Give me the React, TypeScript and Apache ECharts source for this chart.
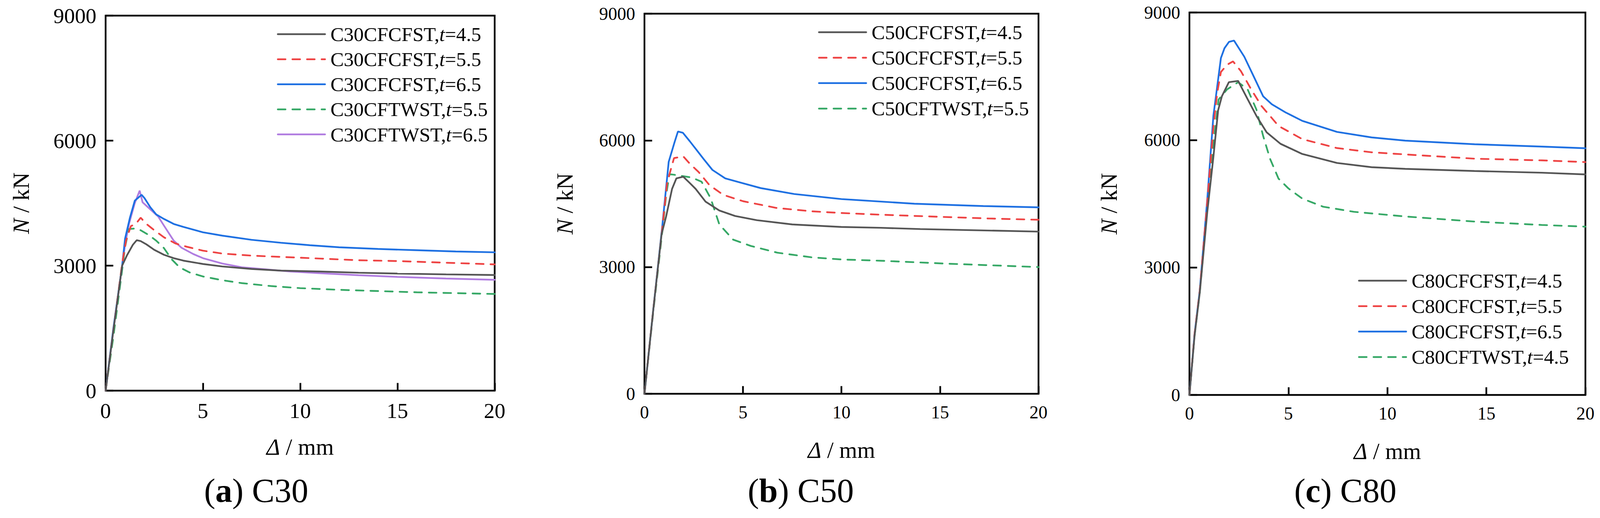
import React, { useEffect, useRef } from "react";
import * as echarts from "echarts";

const FONT = '"Liberation Serif", "Times New Roman", serif';

const xTicks = [0, 5, 10, 15, 20];
const yTicks = [0, 3000, 6000, 9000];
const captions = ["(a) C30", "(b) C50", "(c) C80"];
const seriesColors = ["#555555", "#ee4343", "#1e70e2", "#36a866", "#b07ce0"];

// Panel (a) C30
const namesA = [
  "C30CFCFST,t=4.5",
  "C30CFCFST,t=5.5",
  "C30CFCFST,t=6.5",
  "C30CFTWST,t=5.5",
  "C30CFTWST,t=6.5",
];
const a_cfcfst45 = [[0,0],[0.4,1450],[0.85,3000],[1.1,3250],[1.4,3500],[1.6,3610],[1.8,3590],[2.1,3510],[2.5,3380],[3.0,3260],[3.5,3180],[4.0,3120],[5.0,3040],[6.0,2980],[7.5,2920],[9,2880],[11,2860],[13,2830],[15,2810],[17.5,2790],[20,2775]];
const a_cfcfst55 = [[0,0],[0.4,1450],[0.85,3050],[1.05,3600],[1.3,3950],[1.55,4000],[1.8,4150],[2.1,4000],[2.5,3850],[3.0,3680],[3.6,3530],[4.2,3450],[5.0,3360],[6.0,3290],[7.5,3240],[9,3210],[11,3170],[13,3130],[15,3110],[17.5,3070],[20,3030]];
const a_cfcfst65 = [[0,0],[0.4,1500],[0.85,3000],[1.0,3650],[1.25,4150],[1.5,4560],[1.65,4620],[1.85,4700],[2.0,4620],[2.3,4400],[2.6,4230],[3.0,4120],[3.5,4000],[4.0,3930],[5.0,3800],[6.0,3720],[7.5,3620],[9,3550],[10.5,3490],[12,3440],[14,3400],[16,3370],[18,3340],[20,3320]];
const a_cftwst55 = [[0,0],[0.4,1300],[0.85,2900],[1.0,3450],[1.2,3880],[1.5,3890],[1.8,3850],[2.2,3740],[2.6,3600],[3.0,3420],[3.4,3150],[3.8,2960],[4.3,2840],[5.0,2740],[6.0,2650],[7.0,2580],[8.5,2510],[10,2460],[12,2420],[14,2390],[16,2360],[18,2340],[20,2320]];
const a_cftwst65 = [[0,0],[0.4,1450],[0.85,3000],[1.0,3500],[1.2,4000],[1.5,4500],[1.75,4800],[1.9,4520],[2.3,4350],[2.7,4180],[3.0,3960],[3.5,3600],[3.9,3430],[4.5,3280],[5.0,3180],[6.0,3050],[7.0,2960],[8.0,2920],[9.5,2860],[11,2820],[13,2770],[15,2730],[17.5,2690],[20,2660]];

// Panel (b) C50
const namesB = [
  "C50CFCFST,t=4.5",
  "C50CFCFST,t=5.5",
  "C50CFCFST,t=6.5",
  "C50CFTWST,t=5.5",
];
const b_cfcfst45 = [[0,0],[0.45,2000],[0.87,3780],[1.1,4200],[1.4,4850],[1.62,5100],[1.97,5140],[2.3,4990],[2.6,4850],[3.1,4550],[3.8,4340],[4.6,4210],[5.7,4110],[7.5,4010],[10,3950],[12,3930],[14,3900],[17,3870],[20,3840]];
const b_cfcfst55 = [[0,0],[0.45,2000],[0.9,3900],[1.15,5000],[1.5,5580],[1.97,5620],[2.3,5450],[2.75,5250],[3.3,4940],[4.0,4710],[5.0,4560],[6.7,4400],[8.5,4320],[10,4280],[12,4240],[15,4190],[17.5,4150],[20,4120]];
const b_cfcfst65 = [[0,0],[0.45,2000],[0.9,3950],[1.23,5490],[1.53,5960],[1.7,6210],[1.95,6180],[2.3,5980],[2.6,5800],[3.0,5560],[3.45,5300],[4.1,5100],[5.0,4985],[5.9,4870],[7.6,4730],[10,4610],[13.7,4500],[17.2,4445],[20,4414]];
const b_cftwst55 = [[0,0],[0.45,1950],[0.92,3900],[1.1,4700],[1.27,5200],[1.6,5180],[2.4,5120],[2.9,5020],[3.36,4630],[3.8,4010],[4.5,3650],[5.4,3500],[6.75,3340],[8.5,3230],[10,3180],[12,3150],[15.4,3080],[20,3000]];

// Panel (c) C80
const namesC = [
  "C80CFCFST,t=4.5",
  "C80CFCFST,t=5.5",
  "C80CFCFST,t=6.5",
  "C80CFTWST,t=4.5",
];
const c_cfcfst45 = [[0,0],[0.26,1400],[0.52,2400],[0.9,4300],[1.21,5600],[1.45,6700],[1.64,7030],[1.99,7360],[2.46,7390],[2.94,6960],[3.38,6570],[3.9,6180],[4.6,5910],[5.7,5670],[7.45,5460],[9.2,5360],[10.9,5320],[14.4,5270],[17.8,5230],[20,5190]];
const c_cfcfst55 = [[0,0],[0.26,1440],[0.52,2450],[0.9,4550],[1.21,6300],[1.4,7100],[1.59,7600],[1.9,7770],[2.2,7850],[2.6,7620],[3.12,7190],[3.64,6800],[4.5,6330],[5.7,6020],[7.45,5810],[9.2,5710],[10.9,5660],[14.4,5560],[17.8,5520],[20,5480]];
const c_cfcfst65 = [[0,0],[0.26,1440],[0.52,2450],[0.9,4600],[1.21,6570],[1.59,7930],[1.77,8160],[2.0,8310],[2.25,8340],[2.77,7960],[3.2,7540],[3.72,7030],[4.16,6840],[4.85,6650],[5.7,6450],[7.45,6190],[9.2,6060],[10.9,5985],[14.4,5900],[17.8,5845],[20,5806]];
const c_cftwst45 = [[0,0],[0.26,1400],[0.52,2400],[0.9,4400],[1.21,5900],[1.47,6950],[1.9,7190],[2.46,7360],[2.94,7190],[3.38,6720],[3.72,6100],[4.07,5560],[4.5,5090],[5.0,4860],[5.7,4620],[6.75,4430],[8.3,4310],[10.9,4200],[14.4,4080],[17.8,4000],[20,3960]];

const panels = [
  { names: namesA, data: [a_cfcfst45, a_cfcfst55, a_cfcfst65, a_cftwst55, a_cftwst65], colors: [0, 1, 2, 3, 4], dashed: [false, true, false, true, false] },
  { names: namesB, data: [b_cfcfst45, b_cfcfst55, b_cfcfst65, b_cftwst55], colors: [0, 1, 2, 3], dashed: [false, true, false, true] },
  { names: namesC, data: [c_cfcfst45, c_cfcfst55, c_cfcfst65, c_cftwst45], colors: [0, 1, 2, 3], dashed: [false, true, false, true] },
];

// layout in reference pixels (4166 x 1326), scaled to the real viewport
const REF_W = 4166;
const REF_H = 1326;
const grids = [
  { left: 275, top: 40, width: 1013, height: 960 },
  { left: 1678, top: 35, width: 1026, height: 973 },
  { left: 3097, top: 32, width: 1031, height: 979 },
];
const tickFont = [56, 47, 47];
const yNameGap = [190, 177, 179];
const legendPos = [
  { left: 716, top: 57, gap: 13 },
  { left: 2125, top: 52, gap: 14 },
  { left: 3531, top: 688, gap: 14 },
];
const captionPos = [
  { x: 667, y: 1256 },
  { x: 2085, y: 1256 },
  { x: 3503, y: 1256 },
];

function viewport() {
  const w = (typeof window !== "undefined" && window.innerWidth) || REF_W;
  const h = (typeof window !== "undefined" && window.innerHeight) || REF_H;
  return { w, h };
}

export default function App() {
  const ref = useRef<HTMLDivElement>(null);
  const { w, h } = viewport();
  useEffect(() => {
    if (!ref.current) return;
    const kx = w / REF_W;
    const ky = h / REF_H;
    const kf = Math.min(kx, ky);
    const chart = echarts.init(ref.current, null, { renderer: "svg" });
    const xAxis: any[] = [];
    const yAxis: any[] = [];
    const series: any[] = [];
    const legend: any[] = [];
    const graphic: any[] = [];
    const lw = 4.5 * kf;
    panels.forEach((p, gi) => {
      const nameStyle = {
        color: "#000",
        fontSize: 60 * kf,
        fontFamily: FONT,
        rich: { i: { fontStyle: "italic", fontSize: 60 * kf, fontFamily: FONT, color: "#000" } },
      };
      xAxis.push({
        type: "value",
        gridIndex: gi,
        min: xTicks[0],
        max: xTicks[xTicks.length - 1],
        interval: xTicks[1] - xTicks[0],
        axisLine: { show: false },
        axisTick: { show: true, inside: true, length: 20 * kf, lineStyle: { color: "#000", width: lw } },
        splitLine: { show: false },
        axisLabel: { color: "#000", fontSize: tickFont[gi] * kf, fontFamily: FONT, margin: 24 * ky, formatter: (v: number) => String(v) },
        name: "{i|Δ} / mm",
        nameLocation: "middle",
        nameGap: 114 * ky,
        nameTextStyle: nameStyle,
      });
      yAxis.push({
        type: "value",
        gridIndex: gi,
        min: yTicks[0],
        max: yTicks[yTicks.length - 1],
        interval: yTicks[1] - yTicks[0],
        axisLine: { show: false },
        axisTick: { show: true, inside: true, length: 20 * kf, lineStyle: { color: "#000", width: lw } },
        splitLine: { show: false },
        axisLabel: { color: "#000", fontSize: tickFont[gi] * kf, fontFamily: FONT, margin: 24 * kx, formatter: (v: number) => String(v) },
        name: "{i|N} / kN",
        nameLocation: "middle",
        nameGap: yNameGap[gi] * kx,
        nameTextStyle: nameStyle,
      });
      p.names.forEach((n, si) => {
        series.push({
          type: "line",
          name: n,
          xAxisIndex: gi,
          yAxisIndex: gi,
          data: p.data[si],
          symbol: "none",
          smooth: false,
          lineStyle: {
            color: seriesColors[p.colors[si]],
            width: lw,
            type: p.dashed[si] ? [20 * kf, 18 * kf] : "solid",
            cap: "round",
          },
          itemStyle: { color: seriesColors[p.colors[si]] },
          z: 10 - si,
        });
      });
      legend.push({
        data: p.names,
        orient: "vertical",
        left: legendPos[gi].left * kx,
        top: legendPos[gi].top * ky,
        itemWidth: 123 * kx,
        itemHeight: 2,
        itemGap: legendPos[gi].gap * ky,
        selectedMode: false,
        lineStyle: { width: lw },
        itemStyle: { opacity: 0 },
        formatter: (name: string) => name.replace(",t=", ",{i|t}="),
        textStyle: {
          color: "#000",
          fontSize: 52 * kf,
          fontFamily: FONT,
          lineHeight: 52 * kf,
          padding: [0, 0, 0, 9 * kx],
          rich: { i: { fontStyle: "italic", fontSize: 52 * kf, fontFamily: FONT, color: "#000", lineHeight: 52 * kf } },
        },
      });
      const cap = captions[gi];
      const letter = cap.charAt(1);
      graphic.push({
        type: "text",
        x: captionPos[gi].x * kx,
        y: captionPos[gi].y * ky,
        style: {
          text: "({b|" + letter + "})" + cap.slice(3),
          fill: "#000",
          fontSize: 88 * kf,
          fontFamily: FONT,
          align: "center",
          verticalAlign: "middle",
          rich: { b: { fontWeight: "bold", fontSize: 88 * kf, fontFamily: FONT, fill: "#000" } },
        },
      });
    });
    chart.setOption({
      animation: false,
      backgroundColor: "#fff",
      grid: grids.map((g) => ({
        left: g.left * kx,
        top: g.top * ky,
        width: g.width * kx,
        height: g.height * ky,
        show: true,
        borderColor: "#000",
        borderWidth: lw,
        backgroundColor: "transparent",
        containLabel: false,
      })),
      xAxis,
      yAxis,
      series,
      legend,
      graphic,
    });
    return () => chart.dispose();
  }, [w, h]);
  return (
    <div
      ref={ref}
      style={{ position: "absolute", left: 0, top: 0, width: w, height: h, overflow: "hidden" }}
    />
  );
}
